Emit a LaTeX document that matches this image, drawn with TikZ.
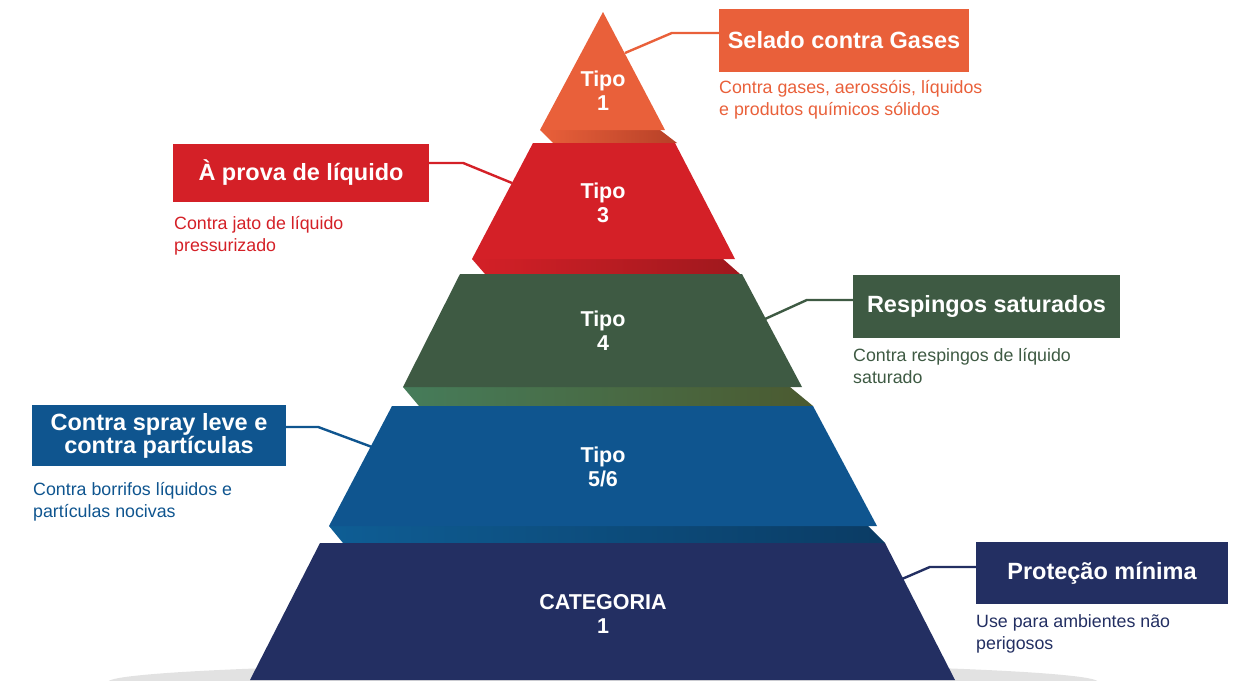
\documentclass[tikz,border=0pt]{standalone}
\usepackage{fontspec}
\setmainfont{Liberation Sans}
\usepackage{xcolor}
\usepackage{tikz}
\usetikzlibrary{positioning,calc}

\definecolor{gasorange}{HTML}{E9603A}
\definecolor{liqred}{HTML}{D42027}
\definecolor{splashgreen}{HTML}{3E5A43}
\definecolor{sprayblue}{HTML}{0F558F}
\definecolor{minnavy}{HTML}{232F62}
\definecolor{floorgray}{HTML}{E2E2E2}
\definecolor{splashteal}{HTML}{467C5A}
\definecolor{splasholive}{HTML}{4B5A30}

\tikzset{
    tier/.style={text=white, font=\bfseries\fontsize{21.5}{24}\selectfont, align=center, inner sep=0pt},
    tag/.style={fill=#1, text=white, font=\bfseries\fontsize{23.5}{23}\selectfont, align=center, inner sep=0pt},
    note/.style={text=#1, font=\fontsize{17.8}{22}\selectfont, align=left, anchor=base west, inner sep=0pt},
    link/.style={draw=#1, line width=2.4pt},
}

\begin{document}
\begin{tikzpicture}[x=1pt, y=-1pt]
    \useasboundingbox (0,0) rectangle (1250,680);
    % floor shadow
    \begin{scope}
        \clip (0,0) rectangle (1250,680);
        \fill[floorgray] (603,682) ellipse (495 and 19);
    \end{scope}

    % under faces of the slabs
    \shade[left color=gasorange, right color=gasorange!75!black!90!red] (540,130) -- (660,130) -- (677,143) -- (553,143) -- cycle;
    \shade[left color=liqred, right color=liqred!75!black] (472,259) -- (723,259) -- (740,274) -- (485,274) -- cycle;
    \shade[left color=splashteal, right color=splasholive] (403,387) -- (790,387) -- (813,406) -- (419,406) -- cycle;
    \shade[left color=sprayblue!95!cyan, right color=sprayblue!70!black] (329,526) -- (868,526) -- (885,543) -- (343,543) -- cycle;

    % pyramid
    \fill[gasorange] (603,12) -- (665,130) -- (540,130) -- cycle;
    \fill[liqred] (533,143) -- (675,143) -- (735,259) -- (472,259) -- cycle;
    \fill[splashgreen] (460,274) -- (742,274) -- (802,387) -- (403,387) -- cycle;
    \fill[sprayblue] (392,406) -- (813,406) -- (877,526) -- (329,526) -- cycle;
    \fill[minnavy] (320,543) -- (885,543) -- (955,680) -- (250,680) -- cycle;

    \node[tier] (tipo1) at (603,91) {Tipo\\1};
    \node[tier] (tipo3) at (603,203) {Tipo\\3};
    \node[tier] (tipo4) at (603,331) {Tipo\\4};
    \node[tier] (tipo56) at (603,467) {Tipo\\5/6};
    \node[tier] (cat1) at (603,614) {CATEGORIA\\1};

    % side points
    \coordinate (s1) at (625,53);
    \coordinate (s3) at (512,183);
    \coordinate (s4) at (765,319);
    \coordinate (s56) at (372,447);
    \coordinate (sc) at (902,579);

    % labels
    \node[tag=gasorange, minimum width=250pt, minimum height=63pt] (gases) at (844,40.5) {Selado contra Gases};
    \node[note=gasorange] (gasesnote) at (719,115) {Contra gases, aerossóis, líquidos\\e produtos químicos sólidos};

    \node[tag=liqred, minimum width=256pt, minimum height=58pt] (liquid) at (301,173) {À prova de líquido};
    \node[note=liqred] (liquidnote) at (174,251) {Contra jato de líquido\\pressurizado};

    \node[tag=splashgreen, minimum width=267pt, minimum height=63pt] (splash) at (986.5,306.5) {Respingos saturados};
    \node[note=splashgreen] (splashnote) at (853,383) {Contra respingos de líquido\\saturado};

    \node[tag=sprayblue, minimum width=254pt, minimum height=61pt] (spray) at (159,435.5) {Contra spray leve e\\contra partículas};
    \node[note=sprayblue] (spraynote) at (33,517) {Contra borrifos líquidos e\\partículas nocivas};

    \node[tag=minnavy, minimum width=252pt, minimum height=62pt] (minimal) at (1102,573) {Proteção mínima};
    \node[note=minnavy] (minimalnote) at (976,649) {Use para ambientes não\\perigosos};

    % connectors
    \draw[link=gasorange] ([yshift=7.5pt]gases.west) -- ++(-47,0) -- (s1);
    \draw[link=liqred] ([yshift=10pt]liquid.east) -- ++(34,0) -- (s3);
    \draw[link=splashgreen] ([yshift=6.5pt]splash.west) -- ++(-46,0) -- (s4);
    \draw[link=sprayblue] ([yshift=8.5pt]spray.east) -- ++(32,0) -- (s56);
    \draw[link=minnavy] ([yshift=6pt]minimal.west) -- ++(-46,0) -- (sc);
\end{tikzpicture}
\end{document}
